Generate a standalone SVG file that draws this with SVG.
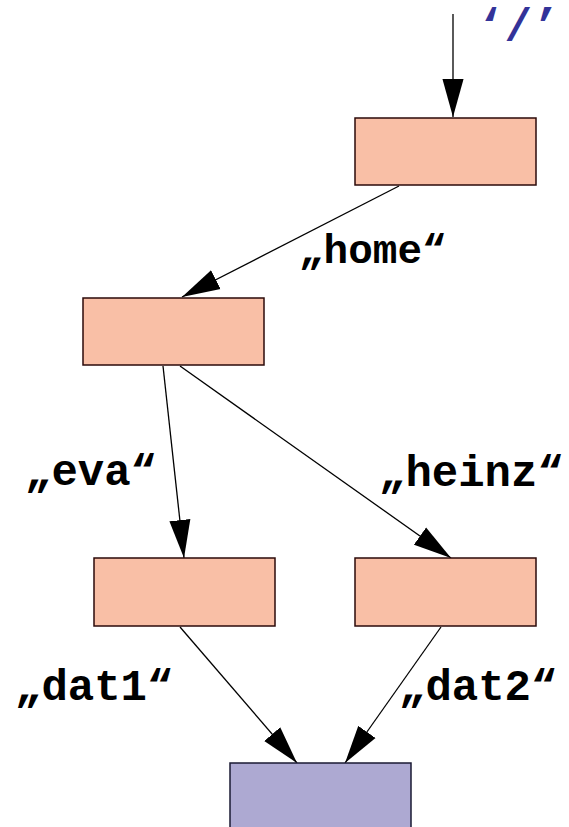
<svg xmlns="http://www.w3.org/2000/svg" width="569" height="827" viewBox="0 0 569 827">
  <style>
    .dir { fill: #F9BFA6; stroke: #2b0a0a; stroke-width: 1.5; }
    .file { fill: #ADA9D2; stroke: #1a1a33; stroke-width: 1.5; }
    .edge { stroke: #000; stroke-width: 1.3; fill: none; marker-end: url(#arrow); }
    .lbl { font-family: "Liberation Mono", "Courier New", monospace; font-weight: bold; font-size: 44px; fill: #000; }
    .root { font-family: "Liberation Mono", "Courier New", monospace; font-weight: bold; font-size: 46px; fill: #333399; }
  </style>
  <defs>
    <marker id="arrow" markerUnits="userSpaceOnUse" markerWidth="38" markerHeight="22" viewBox="0 0 36 20" refX="36" refY="10" orient="auto">
      <path d="M0,0 L36,10 L0,20 Z" fill="#000"/>
    </marker>
  </defs>
  <rect width="569" height="827" fill="#fff"/>

  <g id="connectors">
    <line class="edge" x1="453" y1="14" x2="453" y2="117"/>
    <line class="edge" x1="399" y1="186" x2="182" y2="297"/>
    <line class="edge" x1="163" y1="366" x2="184" y2="558"/>
    <line class="edge" x1="180" y1="366" x2="451" y2="558"/>
    <line class="edge" x1="180" y1="627" x2="297" y2="763"/>
    <line class="edge" x1="441" y1="627" x2="345" y2="763"/>
  </g>

  <g id="root-label">
    <text class="root" x="477" y="41">‘/’</text>
  </g>

  <g id="node-root">
    <rect class="dir" x="355" y="118" width="181" height="67"/>
  </g>
  <g id="node-home">
    <rect class="dir" x="83" y="298" width="181" height="67"/>
    <text class="lbl" x="299" y="263" style="font-size:41px">„home“</text>
  </g>
  <g id="node-eva">
    <rect class="dir" x="94" y="558" width="181" height="68"/>
    <text class="lbl" x="25" y="485">„eva“</text>
  </g>
  <g id="node-heinz">
    <rect class="dir" x="355" y="558" width="181" height="68"/>
    <text class="lbl" x="379" y="486">„heinz“</text>
  </g>
  <g id="node-file">
    <rect class="file" x="230" y="763" width="181" height="80"/>
    <text class="lbl" x="15" y="700">„dat1“</text>
    <text class="lbl" x="399" y="700">„dat2“</text>
  </g>
</svg>
